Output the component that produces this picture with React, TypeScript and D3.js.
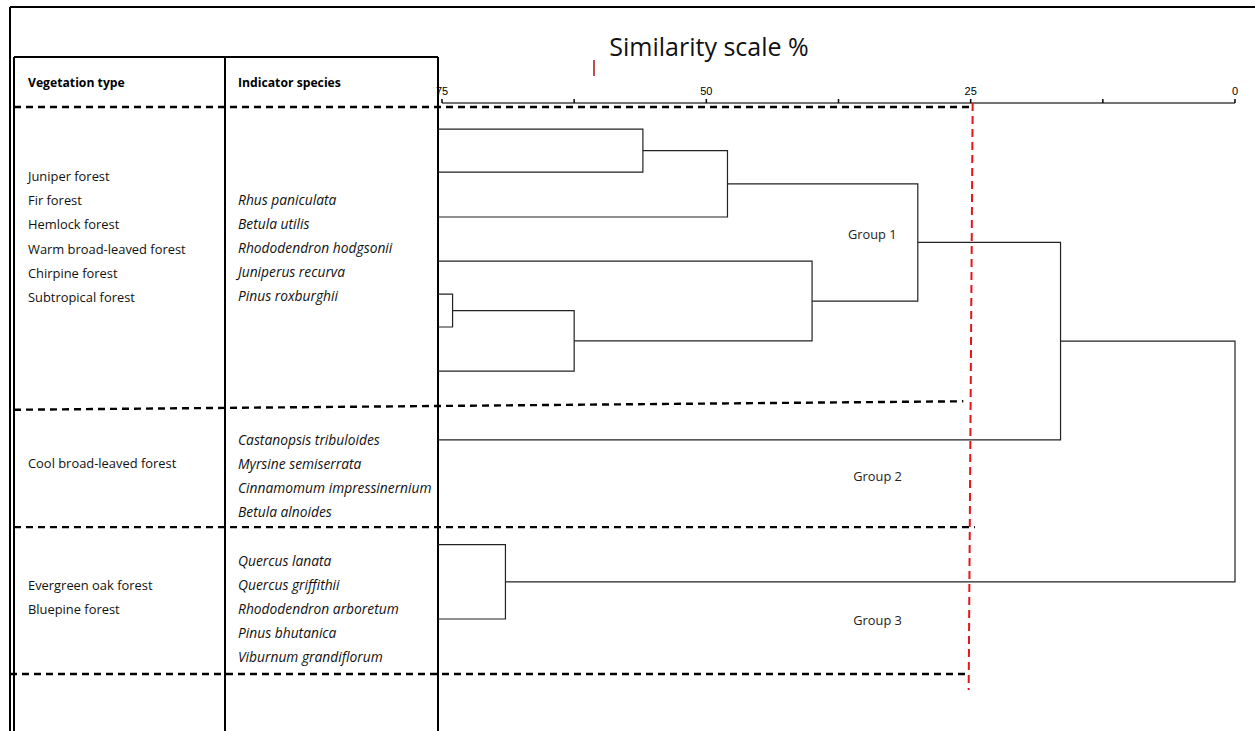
import React from "react";
import * as d3 from "d3";

const W = 1255;
const H = 731;

// leaf positions, in % of the table body height (top dashed line = 0, bottom = 100)
const leafRows = [3.9, 11.5, 19.4, 27.2, 33.0, 38.8, 46.6, 58.7, 77.2, 90.3];
// [child, child, similarity %]; ids 0-9 are leaves, merges get ids 10, 11, ...
const merges: [number, number, number][] = [
  [0, 1, 56],
  [10, 2, 48],
  [4, 5, 74],
  [12, 6, 62.5],
  [3, 13, 40],
  [11, 14, 30],
  [15, 7, 16.5],
  [8, 9, 69],
  [16, 17, 0],
];

const axisTicks = [75, 62.5, 50, 37.5, 25, 12.5, 0];
const axisLabels = ["75", "", "50", "", "25", "", "0"];
const cutoff = 25;

const groupNames = ["Group 1", "Group 2", "Group 3"];
const groupRows = [22.4, 65.1, 90.5];
const groupAt = [36.6, 36.1, 36.1];

// dashed row separators: [row at left, row at right], and the similarity where they stop
const separatorRows = [[0, 0], [53.4, 51.9], [74.1, 74.1], [100, 100]];
const separatorEnds = [24.9, 25.7, 24.6, 25.2];

const vegetation = [
  ["Juniper forest", "Fir forest", "Hemlock forest", "Warm broad-leaved forest", "Chirpine forest", "Subtropical forest"],
  ["Cool broad-leaved forest"],
  ["Evergreen oak forest", "Bluepine forest"],
];
const species = [
  ["Rhus paniculata", "Betula utilis", "Rhododendron hodgsonii", "Juniperus recurva", "Pinus roxburghii"],
  ["Castanopsis tribuloides", "Myrsine semiserrata", "Cinnamomum impressinernium", "Betula alnoides"],
  ["Quercus lanata", "Quercus griffithii", "Rhododendron arboretum", "Pinus bhutanica", "Viburnum grandiflorum"],
];

// layout
const frameX = 10;
const frameY = 7;
const tableX = 14;
const tableTop = 57;
const colX = 225;
const tableRight = 438;
const axisY = 103;
const vegFirst = [176, 463, 585];
const specFirst = [199, 439, 560];
const lineH = 24.2;
const font = "'Open Sans', 'Noto Sans', sans-serif";

export default function App() {
  const x = d3.scaleLinear().domain([75, 0]).range([442, 1235]);
  const y = d3.scaleLinear().domain([0, 100]).range([107, 674]);

  // node positions
  const nodes: { x: number; y: number }[] = leafRows.map((r) => ({ x: tableRight, y: y(r) }));
  const links: string[] = [];
  merges.forEach(([a, b, s]) => {
    const na = nodes[a];
    const nb = nodes[b];
    const nx = x(s);
    const path = d3.path();
    path.moveTo(na.x, na.y);
    path.lineTo(nx, na.y);
    path.lineTo(nx, nb.y);
    path.lineTo(nb.x, nb.y);
    links.push(path.toString());
    nodes.push({ x: nx, y: (na.y + nb.y) / 2 });
  });

  return (
    <svg width={W} height={H} style={{ position: "absolute", left: 0, top: 0, background: "#fff" }}>
      {/* outer frame */}
      <line x1={frameX} y1={frameY} x2={W} y2={frameY} stroke="#000" strokeWidth={2} />
      <line x1={frameX} y1={frameY} x2={frameX} y2={H} stroke="#000" strokeWidth={2} />

      {/* table */}
      <line x1={tableX} y1={tableTop} x2={tableRight} y2={tableTop} stroke="#000" strokeWidth={2} />
      <line x1={tableX} y1={tableTop} x2={tableX} y2={H} stroke="#000" strokeWidth={2} />
      <line x1={colX} y1={tableTop} x2={colX} y2={H} stroke="#000" strokeWidth={2} />
      <line x1={tableRight} y1={tableTop} x2={tableRight} y2={H} stroke="#000" strokeWidth={2} />

      <g fontFamily={font} fontSize={12.2} fontWeight="bold" fill="#000">
        <text x={28} y={82} dominantBaseline="central">Vegetation type</text>
        <text x={238} y={82} dominantBaseline="central">Indicator species</text>
      </g>

      <g fontFamily={font} fill="#111">
        {vegetation.map((rows, gi) =>
          rows.map((t, i) => (
            <text key={`v${gi}-${i}`} x={28} y={vegFirst[gi] + i * lineH} dominantBaseline="central" fontSize={12.9}>
              {t}
            </text>
          ))
        )}
        {species.map((rows, gi) =>
          rows.map((t, i) => (
            <text key={`s${gi}-${i}`} x={238} y={specFirst[gi] + i * lineH} dominantBaseline="central" fontStyle="italic" fontSize={13.8}>
              {t}
            </text>
          ))
        )}
      </g>

      {/* title */}
      <text x={709} y={46} textAnchor="middle" dominantBaseline="central" fontFamily={font} fontSize={25} fill="#111">
        Similarity scale %
      </text>
      <line x1={594} y1={60} x2={594} y2={76} stroke="#a01818" strokeWidth={1.5} />

      {/* axis */}
      <line x1={x(75)} y1={axisY} x2={x(0)} y2={axisY} stroke="#444" strokeWidth={1.5} />
      {axisTicks.map((t, i) => (
        <g key={t} transform={`translate(${x(t)},${axisY})`}>
          <line y1={0} y2={-4} stroke="#000" strokeWidth={1.5} />
          {axisLabels[i] && (
            <text y={-8} textAnchor="middle" fontFamily="'Liberation Sans', Arial, sans-serif" fontSize={11} fill="#000">
              {axisLabels[i]}
            </text>
          )}
        </g>
      ))}

      {/* dashed separators */}
      {separatorRows.map(([r0, r1], i) => (
        <line
          key={i}
          x1={i === separatorRows.length - 1 ? frameX : tableX}
          y1={y(r0)}
          x2={x(separatorEnds[i])}
          y2={y(r1)}
          stroke="#000"
          strokeWidth={2.4}
          strokeDasharray="7 5"
        />
      ))}

      {/* dendrogram */}
      <g fill="none" stroke="#222" strokeWidth={1.2}>
        {links.map((d, i) => (
          <path key={i} d={d} />
        ))}
      </g>

      {/* cutoff */}
      <line x1={x(cutoff) + 2} y1={axisY} x2={x(cutoff) - 2} y2={690} stroke="#e8141a" strokeWidth={2} strokeDasharray="8 5" />

      {/* group labels */}
      <g fontFamily={font} fontSize={12.8} fill="#222">
        {groupNames.map((g, i) => (
          <text key={g} x={x(groupAt[i])} y={y(groupRows[i])} dominantBaseline="central">
            {g}
          </text>
        ))}
      </g>
    </svg>
  );
}
